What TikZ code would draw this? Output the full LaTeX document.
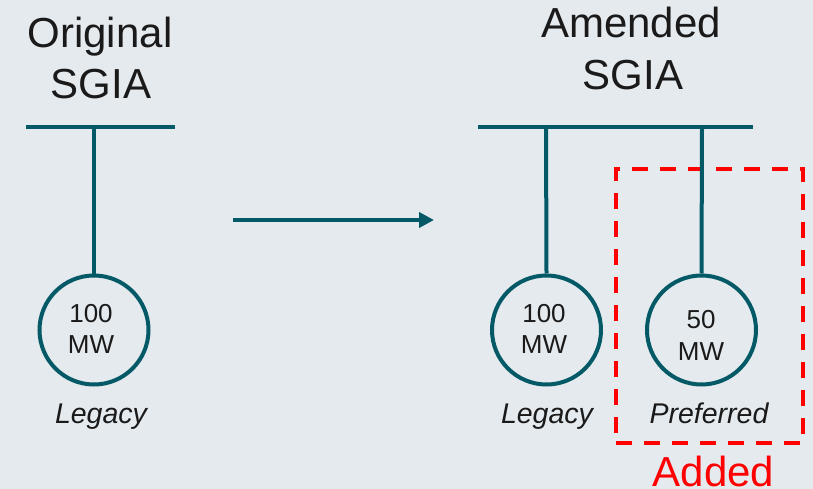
\documentclass[tikz,border=0pt]{standalone}
\usepackage{fontspec}
\setmainfont{Liberation Sans}
\usetikzlibrary{arrows.meta}
\definecolor{bg}{HTML}{E5EAEE}
\definecolor{teal}{HTML}{035A66}
\definecolor{ink}{HTML}{1A1A1A}
\definecolor{addred}{HTML}{FF0000}
\tikzset{
  title/.style={font=\fontsize{42}{51}\selectfont, text=ink, anchor=base, inner sep=0pt},
  small/.style={font=\fontsize{26}{30}\selectfont, text=ink, anchor=base, inner sep=0pt},
  tag/.style={font=\fontsize{28.5}{32}\selectfont\itshape, text=ink, anchor=base, inner sep=0pt},
  bus/.style={draw=teal, line width=4pt},
  wire/.style={draw=teal, line width=4pt},
  gen/.style={circle, draw=teal, line width=4pt, minimum size=109pt, inner sep=0pt},
  addbox/.style={draw=addred, line width=4pt, dash pattern=on 16pt off 12pt},
}
\begin{document}
\begin{tikzpicture}[x=1pt, y=-1pt]
  \fill[bg] (0,0) rectangle (813,489);
  \useasboundingbox (0,0) rectangle (813,489);

  % original interconnection
  \node[title] (origA) at (100,48) {Original};
  \node[title] (origB) at (101,99) {SGIA};
  \coordinate (busL1) at (26,127);
  \coordinate (busL2) at (175,127);
  \coordinate (tapL) at (94,127);
  \draw[bus] (busL1) -- (busL2);
  \node[gen] (genL) at (94,330) {};
  \draw[wire] (tapL) -- (genL.north);
  \node[small] (genLa) at (91,322.5) {100};
  \node[small] (genLb) at (91,353) {MW};
  \node[tag] (tagL) at (101,423) {Legacy};

  % transition arrow
  \coordinate (arrS) at (233,220);
  \coordinate (arrE) at (434,220);
  \draw[teal, line width=4pt, -{Triangle[length=15pt, width=15pt]}] (arrS) -- (arrE);

  % amended interconnection
  \node[title] (amdA) at (631,38) {Amended};
  \node[title] (amdB) at (633,90) {SGIA};
  \coordinate (busR1) at (478,127);
  \coordinate (busR2) at (753,127);
  \coordinate (tapR1) at (546,127);
  \coordinate (tapR2) at (702,127);
  \node[addbox, minimum width=187pt, minimum height=274pt, inner sep=0pt] (added) at (709.5,306) {};
  \draw[bus] (busR1) -- (busR2);
  \node[gen] (genR1) at (546.5,330) {};
  \node[gen] (genR2) at (701.5,330) {};
  \draw[wire] (tapR1) -- (genR1.north);
  \draw[wire] (tapR2) -- (genR2.north);
  \node[small] (genR1a) at (544,322) {100};
  \node[small] (genR1b) at (544,353) {MW};
  \node[small] (genR2a) at (701,328) {50};
  \node[small] (genR2b) at (701,360) {MW};
  \node[tag] (tagR1) at (547,423) {Legacy};
  \node[tag] (tagR2) at (709,423) {Preferred};
  \node[font=\fontsize{42}{51}\selectfont, text=addred, anchor=base, inner sep=0pt] (addedlbl) at (713.5,486) {Added};
\end{tikzpicture}
\end{document}
